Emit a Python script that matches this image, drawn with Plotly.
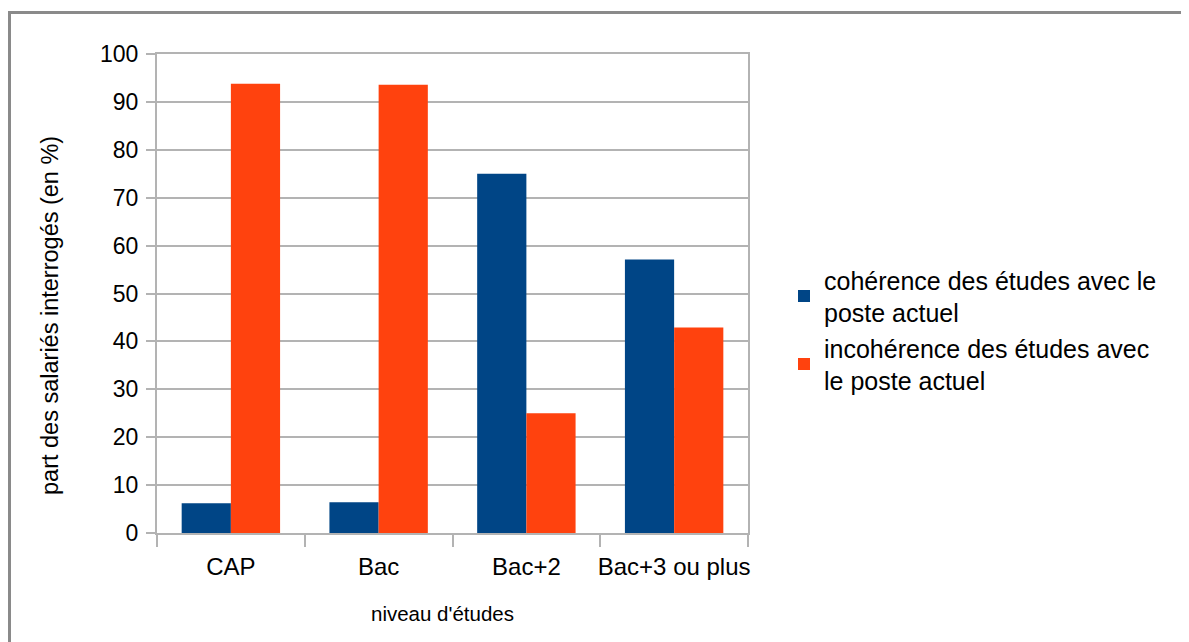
import plotly.graph_objects as go

categories = ["CAP", "Bac", "Bac+2", "Bac+3 ou plus"]
coherence = [6.2, 6.4, 75.0, 57.1]
incoherence = [93.8, 93.6, 25.0, 42.9]
series_names = ["cohérence des études avec le<br>poste actuel",
                "incohérence des études avec<br>le poste actuel"]
y_ticks = list(range(0, 101, 10))
x_title = "niveau d'études"
y_title = "part des salariés interrogés (en %)"

FONT = "Liberation Sans, Arial, sans-serif"

fig = go.Figure()
fig.add_trace(go.Bar(x=categories, y=coherence, name=series_names[0],
                     marker=dict(color="#004586", line=dict(width=0))))
fig.add_trace(go.Bar(x=categories, y=incoherence, name=series_names[1],
                     marker=dict(color="#ff420e", line=dict(width=0))))

# page body has an 8px margin; work in reference pixel coords minus 8
OFF = 8
W, H = 1189 - OFF, 642 - OFF
L, T = 157 - OFF, 54 - OFF
pw, ph = 591, 479
R = W - L - pw
B = H - T - ph

def px_x(p):
    return (p - OFF - L) / pw

def px_y(p):
    return (T + ph - (p - OFF)) / ph

fig.update_layout(
    width=W, height=H,
    margin=dict(l=L, r=R, t=T, b=B, pad=0, autoexpand=False),
    paper_bgcolor="white", plot_bgcolor="white",
    barmode="group", bargap=0.334, bargroupgap=0,
    font=dict(family=FONT, size=20, color="#000000"),
    legend=dict(x=px_x(784), y=px_y(330), xanchor="left", yanchor="middle",
                font=dict(family=FONT, size=25, color="#000000"),
                tracegroupgap=8, itemwidth=30, bgcolor="rgba(0,0,0,0)"),
    showlegend=True,
    xaxis=dict(
        type="category", automargin=False, tickangle=0,
        showline=True, linecolor="#b3b3b3", linewidth=2, mirror=True,
        ticks="outside", tickson="boundaries", ticklen=12, tickwidth=2,
        tickcolor="#b3b3b3", showgrid=False, ticklabelstandoff=11,
        tickfont=dict(family=FONT, size=24, color="#000000"),
    ),
    yaxis=dict(
        range=[0, 100], tickvals=y_ticks, automargin=False,
        showline=True, linecolor="#b3b3b3", linewidth=2, mirror=True,
        ticks="outside", ticklen=9, tickwidth=2, tickcolor="#b3b3b3",
        showgrid=True, gridcolor="#b3b3b3", gridwidth=2, zeroline=False,
        ticklabelstandoff=3,
        tickfont=dict(family=FONT, size=23, color="#000000"),
    ),
    annotations=[
        dict(text=x_title, xref="paper", yref="paper",
             x=px_x(442), y=px_y(613), xanchor="center", yanchor="middle",
             showarrow=False, font=dict(family=FONT, size=20.5, color="#000000")),
        dict(text=y_title, xref="paper", yref="paper", textangle=-90,
             x=px_x(50), y=px_y(316), xanchor="center", yanchor="middle",
             showarrow=False, font=dict(family=FONT, size=23.5, color="#000000")),
    ],
    shapes=[dict(type="rect", xref="paper", yref="paper",
                 x0=px_x(9.5), y0=-1, x1=2, y1=px_y(12.5),
                 line=dict(color="#8a8a8a", width=3), layer="below")],
)

fig.write_html("out.html")
